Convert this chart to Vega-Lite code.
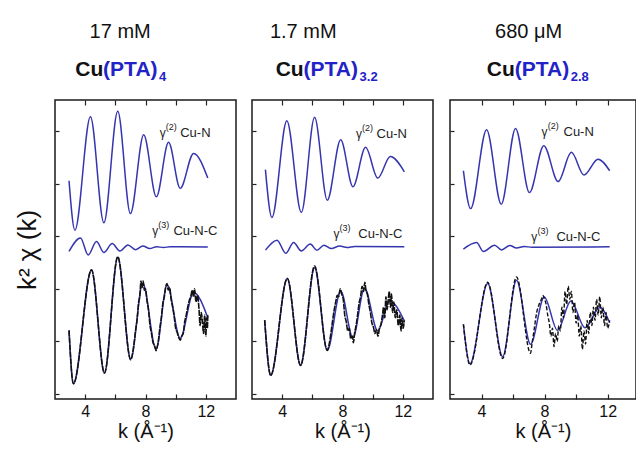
{
  "$schema": "https://vega.github.io/schema/vega-lite/v6.json",
  "background": "white",
  "padding": {"left": 13, "top": 20, "right": 0, "bottom": 0},
  "config": {
    "font": "Liberation Sans",
    "view": {"stroke": "#1a1a1a", "strokeWidth": 1.5},
    "axis": {"domain": false, "grid": false, "tickColor": "#222", "tickWidth": 1.2, "labelColor": "#111", "titleColor": "#111", "titleFontWeight": "normal", "labelFont": "Liberation Sans", "titleFont": "Liberation Sans"}
  },
  "datasets": {
    "curves": [
      {"p":1,"s":"g2","k":2.93,"y":8.11},{"p":1,"s":"g2","k":3.32,"y":6.23},{"p":1,"s":"g2","k":4.35,"y":10.54},{"p":1,"s":"g2","k":5.24,"y":6.51},{"p":1,"s":"g2","k":6.16,"y":10.75},{"p":1,"s":"g2","k":7.0,"y":6.86},{"p":1,"s":"g2","k":7.88,"y":9.86},{"p":1,"s":"g2","k":8.72,"y":7.5},{"p":1,"s":"g2","k":9.53,"y":9.57},{"p":1,"s":"g2","k":10.3,"y":7.82},{"p":1,"s":"g2","k":11.19,"y":9.15},{"p":1,"s":"g2","k":12.13,"y":8.21},
      {"p":1,"s":"g3","k":2.93,"y":5.42},{"p":1,"s":"g3","k":3.69,"y":5.93},{"p":1,"s":"g3","k":4.2,"y":5.29},{"p":1,"s":"g3","k":4.75,"y":5.8},{"p":1,"s":"g3","k":5.24,"y":5.38},{"p":1,"s":"g3","k":5.79,"y":5.72},{"p":1,"s":"g3","k":6.3,"y":5.44},{"p":1,"s":"g3","k":6.84,"y":5.67},{"p":1,"s":"g3","k":7.33,"y":5.49},{"p":1,"s":"g3","k":7.82,"y":5.63},{"p":1,"s":"g3","k":8.28,"y":5.53},{"p":1,"s":"g3","k":8.74,"y":5.6},{"p":1,"s":"g3","k":9.2,"y":5.57},{"p":1,"s":"g3","k":9.62,"y":5.6},{"p":1,"s":"g3","k":12.13,"y":5.59},
      {"p":1,"s":"fit","k":2.93,"y":2.42},{"p":1,"s":"fit","k":3.22,"y":0.39},{"p":1,"s":"fit","k":4.42,"y":4.72},{"p":1,"s":"fit","k":5.28,"y":0.8},{"p":1,"s":"fit","k":6.16,"y":5.19},{"p":1,"s":"fit","k":7.02,"y":1.32},{"p":1,"s":"fit","k":7.82,"y":4.21},{"p":1,"s":"fit","k":8.7,"y":1.7},{"p":1,"s":"fit","k":9.43,"y":4.15},{"p":1,"s":"fit","k":10.3,"y":2.12},{"p":1,"s":"fit","k":11.19,"y":3.86},{"p":1,"s":"fit","k":12.13,"y":2.9},
      {"p":1,"s":"data","k":2.93,"y":2.42},{"p":1,"s":"data","k":3.22,"y":0.39},{"p":1,"s":"data","k":4.42,"y":4.72},{"p":1,"s":"data","k":5.28,"y":0.8},{"p":1,"s":"data","k":6.16,"y":5.22},{"p":1,"s":"data","k":7.02,"y":1.3},{"p":1,"s":"data","k":7.2,"y":1.75},{"p":1,"s":"data","k":7.35,"y":2.45},{"p":1,"s":"data","k":7.45,"y":2.85},{"p":1,"s":"data","k":7.55,"y":3.5},{"p":1,"s":"data","k":7.62,"y":3.7},{"p":1,"s":"data","k":7.7,"y":4.3},{"p":1,"s":"data","k":7.78,"y":4.05},{"p":1,"s":"data","k":7.85,"y":4.3},{"p":1,"s":"data","k":7.92,"y":3.95},{"p":1,"s":"data","k":8.0,"y":4.0},{"p":1,"s":"data","k":8.1,"y":3.55},{"p":1,"s":"data","k":8.2,"y":3.2},{"p":1,"s":"data","k":8.3,"y":2.6},{"p":1,"s":"data","k":8.4,"y":2.3},{"p":1,"s":"data","k":8.5,"y":1.95},{"p":1,"s":"data","k":8.6,"y":1.85},{"p":1,"s":"data","k":8.7,"y":1.65},{"p":1,"s":"data","k":8.78,"y":1.8},{"p":1,"s":"data","k":8.85,"y":2.0},{"p":1,"s":"data","k":8.95,"y":2.5},{"p":1,"s":"data","k":9.05,"y":2.9},{"p":1,"s":"data","k":9.15,"y":3.45},{"p":1,"s":"data","k":9.25,"y":3.7},{"p":1,"s":"data","k":9.35,"y":4.1},{"p":1,"s":"data","k":9.43,"y":4.2},{"p":1,"s":"data","k":9.5,"y":3.95},{"p":1,"s":"data","k":9.6,"y":4.05},{"p":1,"s":"data","k":9.7,"y":3.6},{"p":1,"s":"data","k":9.8,"y":3.3},{"p":1,"s":"data","k":9.9,"y":2.95},{"p":1,"s":"data","k":10.0,"y":2.5},{"p":1,"s":"data","k":10.1,"y":2.35},{"p":1,"s":"data","k":10.2,"y":2.15},{"p":1,"s":"data","k":10.3,"y":2.05},{"p":1,"s":"data","k":10.4,"y":2.2},{"p":1,"s":"data","k":10.5,"y":2.3},{"p":1,"s":"data","k":10.6,"y":2.75},{"p":1,"s":"data","k":10.7,"y":3.0},{"p":1,"s":"data","k":10.8,"y":3.3},{"p":1,"s":"data","k":10.9,"y":3.55},{"p":1,"s":"data","k":11.0,"y":3.7},{"p":1,"s":"data","k":11.1,"y":3.95},{"p":1,"s":"data","k":11.19,"y":3.7},{"p":1,"s":"data","k":11.25,"y":4.0},{"p":1,"s":"data","k":11.35,"y":3.5},{"p":1,"s":"data","k":11.45,"y":3.75},{"p":1,"s":"data","k":11.55,"y":3.2},{"p":1,"s":"data","k":11.62,"y":2.6},{"p":1,"s":"data","k":11.7,"y":3.1},{"p":1,"s":"data","k":11.78,"y":2.7},{"p":1,"s":"data","k":11.85,"y":2.3},{"p":1,"s":"data","k":11.92,"y":3.0},{"p":1,"s":"data","k":12.0,"y":2.2},{"p":1,"s":"data","k":12.05,"y":2.9},{"p":1,"s":"data","k":12.1,"y":2.5},{"p":1,"s":"data","k":12.13,"y":3.0},

      {"p":2,"s":"g2","k":2.89,"y":8.53},{"p":2,"s":"g2","k":3.32,"y":6.71},{"p":2,"s":"g2","k":4.31,"y":10.39},{"p":2,"s":"g2","k":5.27,"y":6.9},{"p":2,"s":"g2","k":6.15,"y":10.52},{"p":2,"s":"g2","k":6.99,"y":7.37},{"p":2,"s":"g2","k":7.88,"y":9.67},{"p":2,"s":"g2","k":8.69,"y":7.88},{"p":2,"s":"g2","k":9.53,"y":9.38},{"p":2,"s":"g2","k":10.34,"y":8.21},{"p":2,"s":"g2","k":11.17,"y":9.03},{"p":2,"s":"g2","k":12.1,"y":8.45},
      {"p":2,"s":"g3","k":2.89,"y":5.47},{"p":2,"s":"g3","k":3.66,"y":5.85},{"p":2,"s":"g3","k":4.24,"y":5.35},{"p":2,"s":"g3","k":4.76,"y":5.76},{"p":2,"s":"g3","k":5.27,"y":5.44},{"p":2,"s":"g3","k":5.86,"y":5.7},{"p":2,"s":"g3","k":6.3,"y":5.47},{"p":2,"s":"g3","k":6.77,"y":5.66},{"p":2,"s":"g3","k":7.26,"y":5.53},{"p":2,"s":"g3","k":7.81,"y":5.63},{"p":2,"s":"g3","k":8.3,"y":5.57},{"p":2,"s":"g3","k":8.8,"y":5.61},{"p":2,"s":"g3","k":12.1,"y":5.6},
      {"p":2,"s":"fit","k":2.84,"y":2.81},{"p":2,"s":"fit","k":3.24,"y":0.71},{"p":2,"s":"fit","k":4.34,"y":4.39},{"p":2,"s":"fit","k":5.22,"y":1.09},{"p":2,"s":"fit","k":6.15,"y":4.8},{"p":2,"s":"fit","k":6.99,"y":1.66},{"p":2,"s":"fit","k":7.88,"y":3.92},{"p":2,"s":"fit","k":8.69,"y":2.14},{"p":2,"s":"fit","k":9.46,"y":4.02},{"p":2,"s":"fit","k":10.34,"y":2.4},{"p":2,"s":"fit","k":11.12,"y":3.54},{"p":2,"s":"fit","k":12.1,"y":2.78},
      {"p":2,"s":"data","k":2.84,"y":2.81},{"p":2,"s":"data","k":3.24,"y":0.71},{"p":2,"s":"data","k":4.34,"y":4.39},{"p":2,"s":"data","k":5.22,"y":1.09},{"p":2,"s":"data","k":6.15,"y":4.87},{"p":2,"s":"data","k":6.99,"y":1.66},{"p":2,"s":"data","k":7.15,"y":2.0},{"p":2,"s":"data","k":7.3,"y":2.6},{"p":2,"s":"data","k":7.45,"y":3.2},{"p":2,"s":"data","k":7.55,"y":3.5},{"p":2,"s":"data","k":7.65,"y":3.75},{"p":2,"s":"data","k":7.75,"y":3.7},{"p":2,"s":"data","k":7.85,"y":4.0},{"p":2,"s":"data","k":7.95,"y":3.8},{"p":2,"s":"data","k":8.05,"y":3.6},{"p":2,"s":"data","k":8.15,"y":3.0},{"p":2,"s":"data","k":8.25,"y":2.75},{"p":2,"s":"data","k":8.35,"y":2.4},{"p":2,"s":"data","k":8.45,"y":2.5},{"p":2,"s":"data","k":8.55,"y":2.1},{"p":2,"s":"data","k":8.65,"y":2.2},{"p":2,"s":"data","k":8.72,"y":1.95},{"p":2,"s":"data","k":8.8,"y":2.3},{"p":2,"s":"data","k":8.9,"y":2.6},{"p":2,"s":"data","k":9.0,"y":3.0},{"p":2,"s":"data","k":9.1,"y":3.45},{"p":2,"s":"data","k":9.2,"y":3.7},{"p":2,"s":"data","k":9.3,"y":4.1},{"p":2,"s":"data","k":9.4,"y":3.9},{"p":2,"s":"data","k":9.48,"y":4.25},{"p":2,"s":"data","k":9.55,"y":3.95},{"p":2,"s":"data","k":9.65,"y":3.8},{"p":2,"s":"data","k":9.75,"y":3.4},{"p":2,"s":"data","k":9.85,"y":3.1},{"p":2,"s":"data","k":9.95,"y":2.7},{"p":2,"s":"data","k":10.05,"y":2.55},{"p":2,"s":"data","k":10.15,"y":2.3},{"p":2,"s":"data","k":10.25,"y":2.45},{"p":2,"s":"data","k":10.35,"y":2.2},{"p":2,"s":"data","k":10.45,"y":2.5},{"p":2,"s":"data","k":10.55,"y":2.65},{"p":2,"s":"data","k":10.65,"y":3.0},{"p":2,"s":"data","k":10.72,"y":3.3},{"p":2,"s":"data","k":10.8,"y":2.9},{"p":2,"s":"data","k":10.88,"y":3.7},{"p":2,"s":"data","k":10.95,"y":3.2},{"p":2,"s":"data","k":11.02,"y":3.5},{"p":2,"s":"data","k":11.1,"y":3.9},{"p":2,"s":"data","k":11.18,"y":3.3},{"p":2,"s":"data","k":11.25,"y":3.8},{"p":2,"s":"data","k":11.32,"y":3.1},{"p":2,"s":"data","k":11.4,"y":3.5},{"p":2,"s":"data","k":11.5,"y":2.9},{"p":2,"s":"data","k":11.6,"y":3.2},{"p":2,"s":"data","k":11.7,"y":2.6},{"p":2,"s":"data","k":11.8,"y":3.0},{"p":2,"s":"data","k":11.88,"y":2.4},{"p":2,"s":"data","k":11.95,"y":2.9},{"p":2,"s":"data","k":12.02,"y":2.5},{"p":2,"s":"data","k":12.1,"y":2.8},

      {"p":3,"s":"g2","k":2.85,"y":8.49},{"p":3,"s":"g2","k":3.31,"y":7.05},{"p":3,"s":"g2","k":4.32,"y":10.05},{"p":3,"s":"g2","k":5.25,"y":7.22},{"p":3,"s":"g2","k":6.16,"y":10.1},{"p":3,"s":"g2","k":7.04,"y":7.66},{"p":3,"s":"g2","k":7.95,"y":9.44},{"p":3,"s":"g2","k":8.86,"y":8.08},{"p":3,"s":"g2","k":9.7,"y":9.19},{"p":3,"s":"g2","k":10.5,"y":8.33},{"p":3,"s":"g2","k":11.39,"y":8.93},{"p":3,"s":"g2","k":12.13,"y":8.49},
      {"p":3,"s":"g3","k":2.85,"y":5.51},{"p":3,"s":"g3","k":3.69,"y":5.76},{"p":3,"s":"g3","k":4.11,"y":5.42},{"p":3,"s":"g3","k":4.83,"y":5.66},{"p":3,"s":"g3","k":5.27,"y":5.48},{"p":3,"s":"g3","k":5.8,"y":5.65},{"p":3,"s":"g3","k":6.22,"y":5.55},{"p":3,"s":"g3","k":6.7,"y":5.61},{"p":3,"s":"g3","k":7.2,"y":5.58},{"p":3,"s":"g3","k":12.13,"y":5.6},
      {"p":3,"s":"fit","k":2.85,"y":2.65},{"p":3,"s":"fit","k":3.27,"y":1.15},{"p":3,"s":"fit","k":4.39,"y":4.2},{"p":3,"s":"fit","k":5.34,"y":1.42},{"p":3,"s":"fit","k":6.22,"y":4.33},{"p":3,"s":"fit","k":7.11,"y":1.89},{"p":3,"s":"fit","k":7.98,"y":3.69},{"p":3,"s":"fit","k":8.82,"y":2.42},{"p":3,"s":"fit","k":9.67,"y":3.54},{"p":3,"s":"fit","k":10.56,"y":2.52},{"p":3,"s":"fit","k":11.51,"y":3.29},{"p":3,"s":"fit","k":12.13,"y":2.71},
      {"p":3,"s":"data","k":2.85,"y":2.65},{"p":3,"s":"data","k":3.27,"y":1.1},{"p":3,"s":"data","k":4.39,"y":4.25},{"p":3,"s":"data","k":5.34,"y":1.35},{"p":3,"s":"data","k":6.22,"y":4.45},{"p":3,"s":"data","k":7.11,"y":1.55},{"p":3,"s":"data","k":7.2,"y":1.9},{"p":3,"s":"data","k":7.35,"y":2.5},{"p":3,"s":"data","k":7.5,"y":3.1},{"p":3,"s":"data","k":7.65,"y":3.4},{"p":3,"s":"data","k":7.8,"y":3.6},{"p":3,"s":"data","k":7.9,"y":3.75},{"p":3,"s":"data","k":8.0,"y":3.6},{"p":3,"s":"data","k":8.1,"y":3.4},{"p":3,"s":"data","k":8.2,"y":3.0},{"p":3,"s":"data","k":8.3,"y":2.7},{"p":3,"s":"data","k":8.4,"y":2.2},{"p":3,"s":"data","k":8.5,"y":2.5},{"p":3,"s":"data","k":8.6,"y":1.8},{"p":3,"s":"data","k":8.7,"y":2.3},{"p":3,"s":"data","k":8.8,"y":2.0},{"p":3,"s":"data","k":8.9,"y":2.6},{"p":3,"s":"data","k":9.0,"y":2.4},{"p":3,"s":"data","k":9.1,"y":3.3},{"p":3,"s":"data","k":9.2,"y":2.9},{"p":3,"s":"data","k":9.3,"y":3.9},{"p":3,"s":"data","k":9.4,"y":3.4},{"p":3,"s":"data","k":9.5,"y":4.1},{"p":3,"s":"data","k":9.6,"y":3.6},{"p":3,"s":"data","k":9.7,"y":3.9},{"p":3,"s":"data","k":9.8,"y":3.1},{"p":3,"s":"data","k":9.9,"y":3.5},{"p":3,"s":"data","k":10.0,"y":2.7},{"p":3,"s":"data","k":10.1,"y":3.0},{"p":3,"s":"data","k":10.2,"y":2.2},{"p":3,"s":"data","k":10.3,"y":2.6},{"p":3,"s":"data","k":10.4,"y":1.7},{"p":3,"s":"data","k":10.5,"y":2.4},{"p":3,"s":"data","k":10.6,"y":1.9},{"p":3,"s":"data","k":10.7,"y":2.8},{"p":3,"s":"data","k":10.8,"y":2.3},{"p":3,"s":"data","k":10.9,"y":3.1},{"p":3,"s":"data","k":11.0,"y":2.6},{"p":3,"s":"data","k":11.1,"y":3.3},{"p":3,"s":"data","k":11.2,"y":2.8},{"p":3,"s":"data","k":11.3,"y":3.6},{"p":3,"s":"data","k":11.4,"y":3.0},{"p":3,"s":"data","k":11.5,"y":3.7},{"p":3,"s":"data","k":11.6,"y":2.9},{"p":3,"s":"data","k":11.7,"y":3.3},{"p":3,"s":"data","k":11.8,"y":2.6},{"p":3,"s":"data","k":11.9,"y":3.1},{"p":3,"s":"data","k":12.0,"y":2.5},{"p":3,"s":"data","k":12.13,"y":2.8}
    ],
    "labels": [
      {"p":1,"r":"conc","t":"17 mM","k":6.32,"y":13.55},
      {"p":1,"r":"cu","t":"Cu","k":3.34,"y":12.1},
      {"p":1,"r":"pta","t":"(PTA)","k":5.19,"y":12.1},
      {"p":1,"r":"sub","t":"4","k":8.89,"y":11.9},
      {"p":1,"r":"gam","t":"γ","k":8.95,"y":9.78},
      {"p":1,"r":"sup","t":"(2)","k":9.35,"y":10.05},
      {"p":1,"r":"path","t":"Cu-N","k":10.3,"y":9.78},
      {"p":1,"r":"gam","t":"γ","k":8.45,"y":6.05},
      {"p":1,"r":"sup","t":"(3)","k":8.85,"y":6.32},
      {"p":1,"r":"path","t":"Cu-N-C","k":9.85,"y":6.05},
      {"p":2,"r":"conc","t":"1.7 mM","k":5.4,"y":13.55},
      {"p":2,"r":"cu","t":"Cu","k":3.57,"y":12.1},
      {"p":2,"r":"pta","t":"(PTA)","k":5.42,"y":12.1},
      {"p":2,"r":"sub","t":"3.2","k":9.13,"y":11.9},
      {"p":2,"r":"gam","t":"γ","k":8.9,"y":9.74},
      {"p":2,"r":"sup","t":"(2)","k":9.3,"y":10.0},
      {"p":2,"r":"path","t":"Cu-N","k":10.26,"y":9.74},
      {"p":2,"r":"gam","t":"γ","k":7.4,"y":5.94},
      {"p":2,"r":"sup","t":"(3)","k":7.8,"y":6.2},
      {"p":2,"r":"path","t":"Cu-N-C","k":9.05,"y":5.94},
      {"p":3,"r":"conc","t":"680 μM","k":6.99,"y":13.55},
      {"p":3,"r":"cu","t":"Cu","k":4.33,"y":12.1},
      {"p":3,"r":"pta","t":"(PTA)","k":6.11,"y":12.1},
      {"p":3,"r":"sub","t":"2.8","k":9.66,"y":11.9},
      {"p":3,"r":"gam","t":"γ","k":7.8,"y":9.82},
      {"p":3,"r":"sup","t":"(2)","k":8.2,"y":10.08},
      {"p":3,"r":"path","t":"Cu-N","k":9.2,"y":9.82},
      {"p":3,"r":"gam","t":"γ","k":7.15,"y":5.82},
      {"p":3,"r":"sup","t":"(3)","k":7.55,"y":6.08},
      {"p":3,"r":"path","t":"Cu-N-C","k":8.75,"y":5.82}
    ]
  },
  "spacing": 14,
  "hconcat": [
    {
      "spacing": 13,
      "hconcat": [
        {
          "width": 181, "height": 299,
          "resolve": {"axis": {"x": "independent"}},
          "layer": [
            {
              "data": {"name": "curves"},
              "transform": [{"filter": "datum.p == 1 && datum.s != 'data'"}],
              "mark": {"type": "line", "interpolate": "monotone", "color": "#3535b0", "strokeWidth": 1.5},
              "encoding": {
                "x": {"field": "k", "type": "quantitative", "scale": {"domain": [2, 14], "nice": false, "zero": false},
                      "axis": {"orient": "bottom", "values": [4, 6, 8, 10, 12], "labelExpr": "datum.value % 4 == 0 ? datum.label : ''", "tickSize": -5, "labelPadding": 9, "labelFontSize": 16, "title": "k (Å⁻¹)", "titleFontSize": 20, "titlePadding": 2}},
                "y": {"field": "y", "type": "quantitative", "scale": {"domain": [-0.19, 11.18], "nice": false, "zero": false},
                      "axis": {"orient": "left", "values": [0, 1, 2, 3, 4, 5, 6, 7, 8, 9, 10, 11], "labels": false, "tickSize": -4, "title": "k² χ (k)", "titleFontSize": 26, "titlePadding": 14}},
                "detail": {"field": "s", "type": "nominal"}
              }
            },
            {
              "data": {"name": "curves"},
              "transform": [{"filter": "datum.p == 1 && datum.s == 'data'"}],
              "mark": {"type": "line", "interpolate": "monotone", "color": "#111111", "strokeWidth": 1.6, "strokeDash": [6, 1]},
              "encoding": {
                "x": {"field": "k", "type": "quantitative", "scale": {"domain": [2, 14], "nice": false, "zero": false}, "axis": null},
                "y": {"field": "y", "type": "quantitative", "scale": {"domain": [-0.19, 11.18], "nice": false, "zero": false}}
              }
            },
            {
              "data": {"name": "labels"},
              "transform": [{"filter": "datum.p == 1 && datum.r == 'conc'"}],
              "mark": {"type": "text", "align": "center", "baseline": "alphabetic", "fontSize": 20, "color": "#111111"},
              "encoding": {
                "x": {"field": "k", "type": "quantitative", "scale": {"domain": [2, 14], "nice": false, "zero": false},
                      "axis": {"orient": "top", "values": [4, 6, 8, 10, 12], "labels": false, "tickSize": -5, "title": null}},
                "y": {"field": "y", "type": "quantitative", "scale": {"domain": [-0.19, 11.18], "nice": false, "zero": false}},
                "text": {"field": "t"}
              }
            },
            {
              "data": {"name": "labels"},
              "transform": [{"filter": "datum.p == 1 && (datum.r == 'cu' || datum.r == 'pta' || datum.r == 'sub')"}],
              "mark": {"type": "text", "align": "left", "baseline": "alphabetic", "fontWeight": "bold"},
              "encoding": {
                "x": {"field": "k", "type": "quantitative", "scale": {"domain": [2, 14], "nice": false, "zero": false}, "axis": null},
                "y": {"field": "y", "type": "quantitative", "scale": {"domain": [-0.19, 11.18], "nice": false, "zero": false}},
                "text": {"field": "t"},
                "color": {"field": "r", "type": "nominal", "scale": {"domain": ["cu", "pta", "sub", "gam", "sup", "path"], "range": ["#111111", "#2222c8", "#2222c8", "#222222", "#222222", "#222222"]}, "legend": null},
                "size": {"field": "r", "type": "nominal", "scale": {"type": "ordinal", "domain": ["cu", "pta", "sub", "gam", "sup", "path"], "range": [21, 21, 13, 12, 9, 13]}, "legend": null}
              }
            },
            {
              "data": {"name": "labels"},
              "transform": [{"filter": "datum.p == 1 && (datum.r == 'gam' || datum.r == 'sup' || datum.r == 'path')"}],
              "mark": {"type": "text", "align": "left", "baseline": "alphabetic"},
              "encoding": {
                "x": {"field": "k", "type": "quantitative", "scale": {"domain": [2, 14], "nice": false, "zero": false}, "axis": null},
                "y": {"field": "y", "type": "quantitative", "scale": {"domain": [-0.19, 11.18], "nice": false, "zero": false}},
                "text": {"field": "t"},
                "color": {"field": "r", "type": "nominal", "scale": {"domain": ["cu", "pta", "sub", "gam", "sup", "path"], "range": ["#111111", "#2222c8", "#2222c8", "#222222", "#222222", "#222222"]}, "legend": null},
                "size": {"field": "r", "type": "nominal", "scale": {"type": "ordinal", "domain": ["cu", "pta", "sub", "gam", "sup", "path"], "range": [21, 21, 13, 12, 9, 13]}, "legend": null}
              }
            }
          ]
        },
        {
          "width": 181, "height": 299,
          "resolve": {"axis": {"x": "independent"}},
          "layer": [
            {
              "data": {"name": "curves"},
              "transform": [{"filter": "datum.p == 2 && datum.s != 'data'"}],
              "mark": {"type": "line", "interpolate": "monotone", "color": "#3535b0", "strokeWidth": 1.5},
              "encoding": {
                "x": {"field": "k", "type": "quantitative", "scale": {"domain": [2, 14], "nice": false, "zero": false},
                      "axis": {"orient": "bottom", "values": [4, 6, 8, 10, 12], "labelExpr": "datum.value % 4 == 0 ? datum.label : ''", "tickSize": -5, "labelPadding": 9, "labelFontSize": 16, "title": "k (Å⁻¹)", "titleFontSize": 20, "titlePadding": 2}},
                "y": {"field": "y", "type": "quantitative", "scale": {"domain": [-0.19, 11.18], "nice": false, "zero": false},
                      "axis": {"orient": "left", "values": [0, 1, 2, 3, 4, 5, 6, 7, 8, 9, 10, 11], "labels": false, "tickSize": -4, "title": null}},
                "detail": {"field": "s", "type": "nominal"}
              }
            },
            {
              "data": {"name": "curves"},
              "transform": [{"filter": "datum.p == 2 && datum.s == 'data'"}],
              "mark": {"type": "line", "interpolate": "monotone", "color": "#111111", "strokeWidth": 1.6, "strokeDash": [6, 1]},
              "encoding": {
                "x": {"field": "k", "type": "quantitative", "scale": {"domain": [2, 14], "nice": false, "zero": false}, "axis": null},
                "y": {"field": "y", "type": "quantitative", "scale": {"domain": [-0.19, 11.18], "nice": false, "zero": false}}
              }
            },
            {
              "data": {"name": "labels"},
              "transform": [{"filter": "datum.p == 2 && datum.r == 'conc'"}],
              "mark": {"type": "text", "align": "center", "baseline": "alphabetic", "fontSize": 20, "color": "#111111"},
              "encoding": {
                "x": {"field": "k", "type": "quantitative", "scale": {"domain": [2, 14], "nice": false, "zero": false},
                      "axis": {"orient": "top", "values": [4, 6, 8, 10, 12], "labels": false, "tickSize": -5, "title": null}},
                "y": {"field": "y", "type": "quantitative", "scale": {"domain": [-0.19, 11.18], "nice": false, "zero": false}},
                "text": {"field": "t"}
              }
            },
            {
              "data": {"name": "labels"},
              "transform": [{"filter": "datum.p == 2 && (datum.r == 'cu' || datum.r == 'pta' || datum.r == 'sub')"}],
              "mark": {"type": "text", "align": "left", "baseline": "alphabetic", "fontWeight": "bold"},
              "encoding": {
                "x": {"field": "k", "type": "quantitative", "scale": {"domain": [2, 14], "nice": false, "zero": false}, "axis": null},
                "y": {"field": "y", "type": "quantitative", "scale": {"domain": [-0.19, 11.18], "nice": false, "zero": false}},
                "text": {"field": "t"},
                "color": {"field": "r", "type": "nominal", "scale": {"domain": ["cu", "pta", "sub", "gam", "sup", "path"], "range": ["#111111", "#2222c8", "#2222c8", "#222222", "#222222", "#222222"]}, "legend": null},
                "size": {"field": "r", "type": "nominal", "scale": {"type": "ordinal", "domain": ["cu", "pta", "sub", "gam", "sup", "path"], "range": [21, 21, 13, 12, 9, 13]}, "legend": null}
              }
            },
            {
              "data": {"name": "labels"},
              "transform": [{"filter": "datum.p == 2 && (datum.r == 'gam' || datum.r == 'sup' || datum.r == 'path')"}],
              "mark": {"type": "text", "align": "left", "baseline": "alphabetic"},
              "encoding": {
                "x": {"field": "k", "type": "quantitative", "scale": {"domain": [2, 14], "nice": false, "zero": false}, "axis": null},
                "y": {"field": "y", "type": "quantitative", "scale": {"domain": [-0.19, 11.18], "nice": false, "zero": false}},
                "text": {"field": "t"},
                "color": {"field": "r", "type": "nominal", "scale": {"domain": ["cu", "pta", "sub", "gam", "sup", "path"], "range": ["#111111", "#2222c8", "#2222c8", "#222222", "#222222", "#222222"]}, "legend": null},
                "size": {"field": "r", "type": "nominal", "scale": {"type": "ordinal", "domain": ["cu", "pta", "sub", "gam", "sup", "path"], "range": [21, 21, 13, 12, 9, 13]}, "legend": null}
              }
            }
          ]
        }
      ]
    },
    {
      "width": 186, "height": 299,
      "resolve": {"axis": {"x": "independent"}},
      "layer": [
        {
          "data": {"name": "curves"},
          "transform": [{"filter": "datum.p == 3 && datum.s != 'data'"}],
          "mark": {"type": "line", "interpolate": "monotone", "color": "#3535b0", "strokeWidth": 1.5},
          "encoding": {
            "x": {"field": "k", "type": "quantitative", "scale": {"domain": [2, 13.8], "nice": false, "zero": false},
                  "axis": {"orient": "bottom", "values": [4, 6, 8, 10, 12], "labelExpr": "datum.value % 4 == 0 ? datum.label : ''", "tickSize": -5, "labelPadding": 9, "labelFontSize": 16, "title": "k (Å⁻¹)", "titleFontSize": 20, "titlePadding": 2}},
            "y": {"field": "y", "type": "quantitative", "scale": {"domain": [-0.19, 11.18], "nice": false, "zero": false},
                  "axis": {"orient": "left", "values": [0, 1, 2, 3, 4, 5, 6, 7, 8, 9, 10, 11], "labels": false, "tickSize": -4, "title": null}},
            "detail": {"field": "s", "type": "nominal"}
          }
        },
        {
          "data": {"name": "curves"},
          "transform": [{"filter": "datum.p == 3 && datum.s == 'data'"}],
          "mark": {"type": "line", "interpolate": "monotone", "color": "#111111", "strokeWidth": 1.4, "strokeDash": [4, 2]},
          "encoding": {
            "x": {"field": "k", "type": "quantitative", "scale": {"domain": [2, 13.8], "nice": false, "zero": false}, "axis": null},
            "y": {"field": "y", "type": "quantitative", "scale": {"domain": [-0.19, 11.18], "nice": false, "zero": false}}
          }
        },
        {
          "data": {"name": "labels"},
          "transform": [{"filter": "datum.p == 3 && datum.r == 'conc'"}],
          "mark": {"type": "text", "align": "center", "baseline": "alphabetic", "fontSize": 20, "color": "#111111"},
          "encoding": {
            "x": {"field": "k", "type": "quantitative", "scale": {"domain": [2, 13.8], "nice": false, "zero": false},
                  "axis": {"orient": "top", "values": [4, 6, 8, 10, 12], "labels": false, "tickSize": -5, "title": null}},
            "y": {"field": "y", "type": "quantitative", "scale": {"domain": [-0.19, 11.18], "nice": false, "zero": false}},
            "text": {"field": "t"}
          }
        },
        {
          "data": {"name": "labels"},
          "transform": [{"filter": "datum.p == 3 && (datum.r == 'cu' || datum.r == 'pta' || datum.r == 'sub')"}],
          "mark": {"type": "text", "align": "left", "baseline": "alphabetic", "fontWeight": "bold"},
          "encoding": {
            "x": {"field": "k", "type": "quantitative", "scale": {"domain": [2, 13.8], "nice": false, "zero": false}, "axis": null},
            "y": {"field": "y", "type": "quantitative", "scale": {"domain": [-0.19, 11.18], "nice": false, "zero": false}},
            "text": {"field": "t"},
            "color": {"field": "r", "type": "nominal", "scale": {"domain": ["cu", "pta", "sub", "gam", "sup", "path"], "range": ["#111111", "#2222c8", "#2222c8", "#222222", "#222222", "#222222"]}, "legend": null},
            "size": {"field": "r", "type": "nominal", "scale": {"type": "ordinal", "domain": ["cu", "pta", "sub", "gam", "sup", "path"], "range": [21, 21, 13, 12, 9, 13]}, "legend": null}
          }
        },
        {
          "data": {"name": "labels"},
          "transform": [{"filter": "datum.p == 3 && (datum.r == 'gam' || datum.r == 'sup' || datum.r == 'path')"}],
          "mark": {"type": "text", "align": "left", "baseline": "alphabetic"},
          "encoding": {
            "x": {"field": "k", "type": "quantitative", "scale": {"domain": [2, 13.8], "nice": false, "zero": false}, "axis": null},
            "y": {"field": "y", "type": "quantitative", "scale": {"domain": [-0.19, 11.18], "nice": false, "zero": false}},
            "text": {"field": "t"},
            "color": {"field": "r", "type": "nominal", "scale": {"domain": ["cu", "pta", "sub", "gam", "sup", "path"], "range": ["#111111", "#2222c8", "#2222c8", "#222222", "#222222", "#222222"]}, "legend": null},
            "size": {"field": "r", "type": "nominal", "scale": {"type": "ordinal", "domain": ["cu", "pta", "sub", "gam", "sup", "path"], "range": [21, 21, 13, 12, 9, 13]}, "legend": null}
          }
        }
      ]
    }
  ]
}
